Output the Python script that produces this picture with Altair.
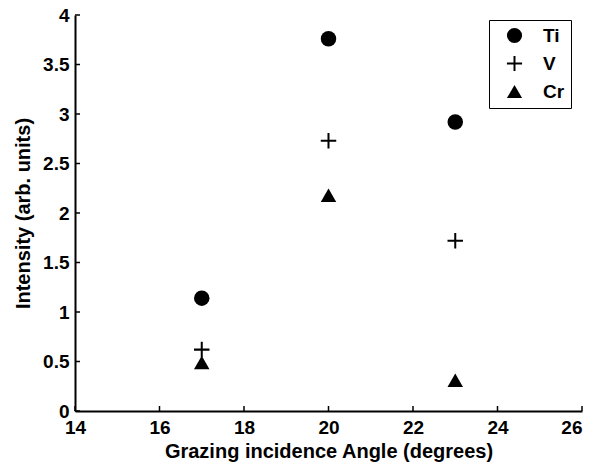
import altair as alt
import pandas as pd

angles = [17, 20, 23]
ti = [1.14, 3.76, 2.92]
v = [0.62, 2.73, 1.72]
cr = [0.49, 2.18, 0.31]
elements = ["Ti", "V", "Cr"]
x_ticks = [14, 16, 18, 20, 22, 24, 26]
y_ticks = [0, 0.5, 1, 1.5, 2, 2.5, 3, 3.5, 4]

rows = []
for name, vals in zip(elements, [ti, v, cr]):
    for a, val in zip(angles, vals):
        rows.append({"angle": a, "intensity": val, "element": name})
df = pd.DataFrame(rows)

W, H = 507, 396
FONT = "Liberation Sans"
TL = 5  # inward tick length
PLUS = ("M-1,-0.13L-0.13,-0.13L-0.13,-1L0.13,-1L0.13,-0.13L1,-0.13L1,0.13"
        "L0.13,0.13L0.13,1L-0.13,1L-0.13,0.13L-1,0.13Z")

xscale = alt.Scale(domain=[14, 26], nice=False, zero=False)
yscale = alt.Scale(domain=[0, 4], nice=False, zero=False)

x_axis = alt.Axis(values=x_ticks, title="Grazing incidence Angle (degrees)", ticks=False,
                  tickSize=0, labelPadding=7, titlePadding=4, domainWidth=2, domainColor="black",
                  grid=False, labelFlush=False, format="d", labelFont=FONT, labelFontSize=19,
                  labelAlign={"condition": {"test": "datum.value == 26", "value": "right"},
                              "value": "center"},
                  labelFontWeight="bold", labelColor="black", titleFont=FONT, titleFontSize=20,
                  titleFontWeight="bold", titleColor="black")
y_axis = alt.Axis(values=y_ticks, title="Intensity (arb. units)", ticks=False,
                  tickSize=0, labelPadding=6, titlePadding=9, domainWidth=2, domainColor="black",
                  grid=False, labelFlush=False, format="~g", labelFont=FONT, labelFontSize=19,
                  labelFontWeight="bold", labelColor="black", titleFont=FONT, titleFontSize=20,
                  titleFontWeight="bold", titleColor="black")

points = alt.Chart(df).mark_point(filled=True, color="black", opacity=1, size=240).encode(
    x=alt.X("angle:Q", scale=xscale, axis=x_axis),
    y=alt.Y("intensity:Q", scale=yscale, axis=y_axis),
    shape=alt.Shape("element:N",
                    scale=alt.Scale(domain=elements, range=["circle", PLUS, "triangle-up"]),
                    legend=alt.Legend(orient="none", legendX=414, legendY=5, title=None,
                                      strokeColor="black", fillColor="white", padding=6,
                                      symbolSize=230, symbolFillColor="black",
                                      symbolStrokeWidth=0,
                                      labelFont=FONT, labelFontSize=19, labelFontWeight="bold",
                                      labelColor="black", rowPadding=8, symbolOffset=10,
                                      labelOffset=19)),
)

xt = alt.Chart(pd.DataFrame({"t": x_ticks})).mark_rule(color="black", strokeWidth=1.5).encode(
    x=alt.X("t:Q", scale=xscale, axis=x_axis),
    y=alt.value(H), y2=alt.value(H - TL),
)
yt = alt.Chart(pd.DataFrame({"t": y_ticks})).mark_rule(color="black", strokeWidth=1.5).encode(
    y=alt.Y("t:Q", scale=yscale, axis=y_axis),
    x=alt.value(0), x2=alt.value(TL),
)

chart = alt.layer(xt, yt, points).properties(
    width=W, height=H,
    autosize=alt.AutoSizeParams(type="none"),
    padding={"left": 67, "top": 7, "right": 3, "bottom": 52},
    background="white",
).configure_view(stroke=None)

chart.save("out.html", embed_options={"renderer": "svg", "actions": False})
